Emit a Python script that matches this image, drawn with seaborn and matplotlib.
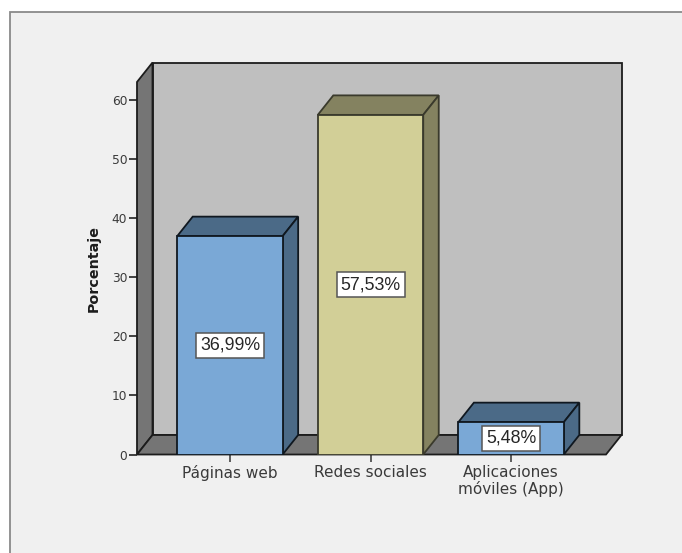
import matplotlib
matplotlib.use("Agg")
import matplotlib.pyplot as plt
from matplotlib.patches import Polygon, Rectangle
import pandas as pd
import seaborn as sns

categories = ["Páginas web", "Redes sociales", "Aplicaciones\nmóviles (App)"]
percentages = [36.99, 57.53, 5.48]
value_labels = ["36,99%", "57,53%", "5,48%"]
y_ticks = [0, 10, 20, 30, 40, 50, 60]

front_colors = ["#7aa8d6", "#d2cf97", "#7aa8d6"]
shade_colors = ["#4b6a87", "#848260", "#4b6a87"]
edge_colors = ["#101820", "#3a3a2c", "#101820"]
PANEL = "#f0f0f0"
WALL = "#bfbfbf"
SIDE = "#757575"
INK = "#3a3a3a"

W, H = 682, 553
sns.set_theme(style="white")
plt.rcParams["font.family"] = ["DejaVu Sans"]

fig = plt.figure(figsize=(W / 100, H / 100), dpi=100, facecolor="white")
fig.add_artist(Rectangle((10 / W, -0.01), 1, (H - 12) / H + 0.01, transform=fig.transFigure,
                         facecolor=PANEL, edgecolor="#8a8a8a", linewidth=1.3, zorder=-5))

ax = fig.add_axes([137 / W, (H - 454.5) / H, 469 / W, 372.5 / H])
ax.patch.set_alpha(0)

frame = pd.DataFrame({"categoria": categories, "porcentaje": percentages})
sns.barplot(data=frame, x="categoria", y="porcentaje", hue="categoria",
            palette=front_colors, width=0.75, saturation=1, legend=False,
            ax=ax, zorder=6)
ax.set_xlim(-0.661, 2.675)
ax.set_ylim(0, 63.1)

# Depth of the pseudo-3D box, in data units
dx = 15.5 / (469 / 3.336)
dy = 19.5 / (372.5 / 63.1)
x0, x1 = ax.get_xlim()
top = ax.get_ylim()[1]


def face(points, color, edge="#1c1c1c", z=1, lw=1.3):
    ax.add_patch(Polygon(points, closed=True, facecolor=color, edgecolor=edge,
                         linewidth=lw, joinstyle="miter", clip_on=False, zorder=z))


face([(x0 + dx, dy), (x1 + dx, dy), (x1 + dx, top + dy), (x0 + dx, top + dy)], WALL)
face([(x0, 0), (x0 + dx, dy), (x0 + dx, top + dy), (x0, top)], SIDE)
face([(x0, 0), (x1, 0), (x1 + dx, dy), (x0 + dx, dy)], SIDE)

for i, bar in enumerate(ax.patches[:len(percentages)]):
    left, right, h = bar.get_x(), bar.get_x() + bar.get_width(), bar.get_height()
    bar.set_edgecolor(edge_colors[i])
    bar.set_linewidth(1.3)
    face([(left, h), (right, h), (right + dx, h + dy), (left + dx, h + dy)],
         shade_colors[i], edge_colors[i], z=4)
    face([(right, 0), (right + dx, dy), (right + dx, h + dy), (right, h)],
         shade_colors[i], edge_colors[i], z=4)
    ax.text(i + 0.002, h / 2, value_labels[i], ha="center", va="center", fontsize=12.8,
            family="Liberation Sans", color="#262626", zorder=8,
            bbox=dict(boxstyle="square,pad=0.22", facecolor="white",
                      edgecolor="#555555", linewidth=1.1))

for side in ax.spines.values():
    side.set_visible(False)
ax.set_yticks(y_ticks)
ax.tick_params(axis="y", left=True, length=5.8, width=1.2, color="#222222", pad=1.2,
               labelsize=8.8, labelcolor=INK)
ax.tick_params(axis="x", bottom=True, length=5, width=1.2, color="#444444", pad=2.5,
               labelsize=11, labelcolor=INK)
for lab in ax.get_xticklabels():
    lab.set_linespacing(1.1)
ax.set_xlabel("")
ax.set_ylabel("Porcentaje", fontsize=10.3, fontweight="bold", color="#1c1c1c", labelpad=8)

fig.savefig("out.png", dpi=100, facecolor="white")
